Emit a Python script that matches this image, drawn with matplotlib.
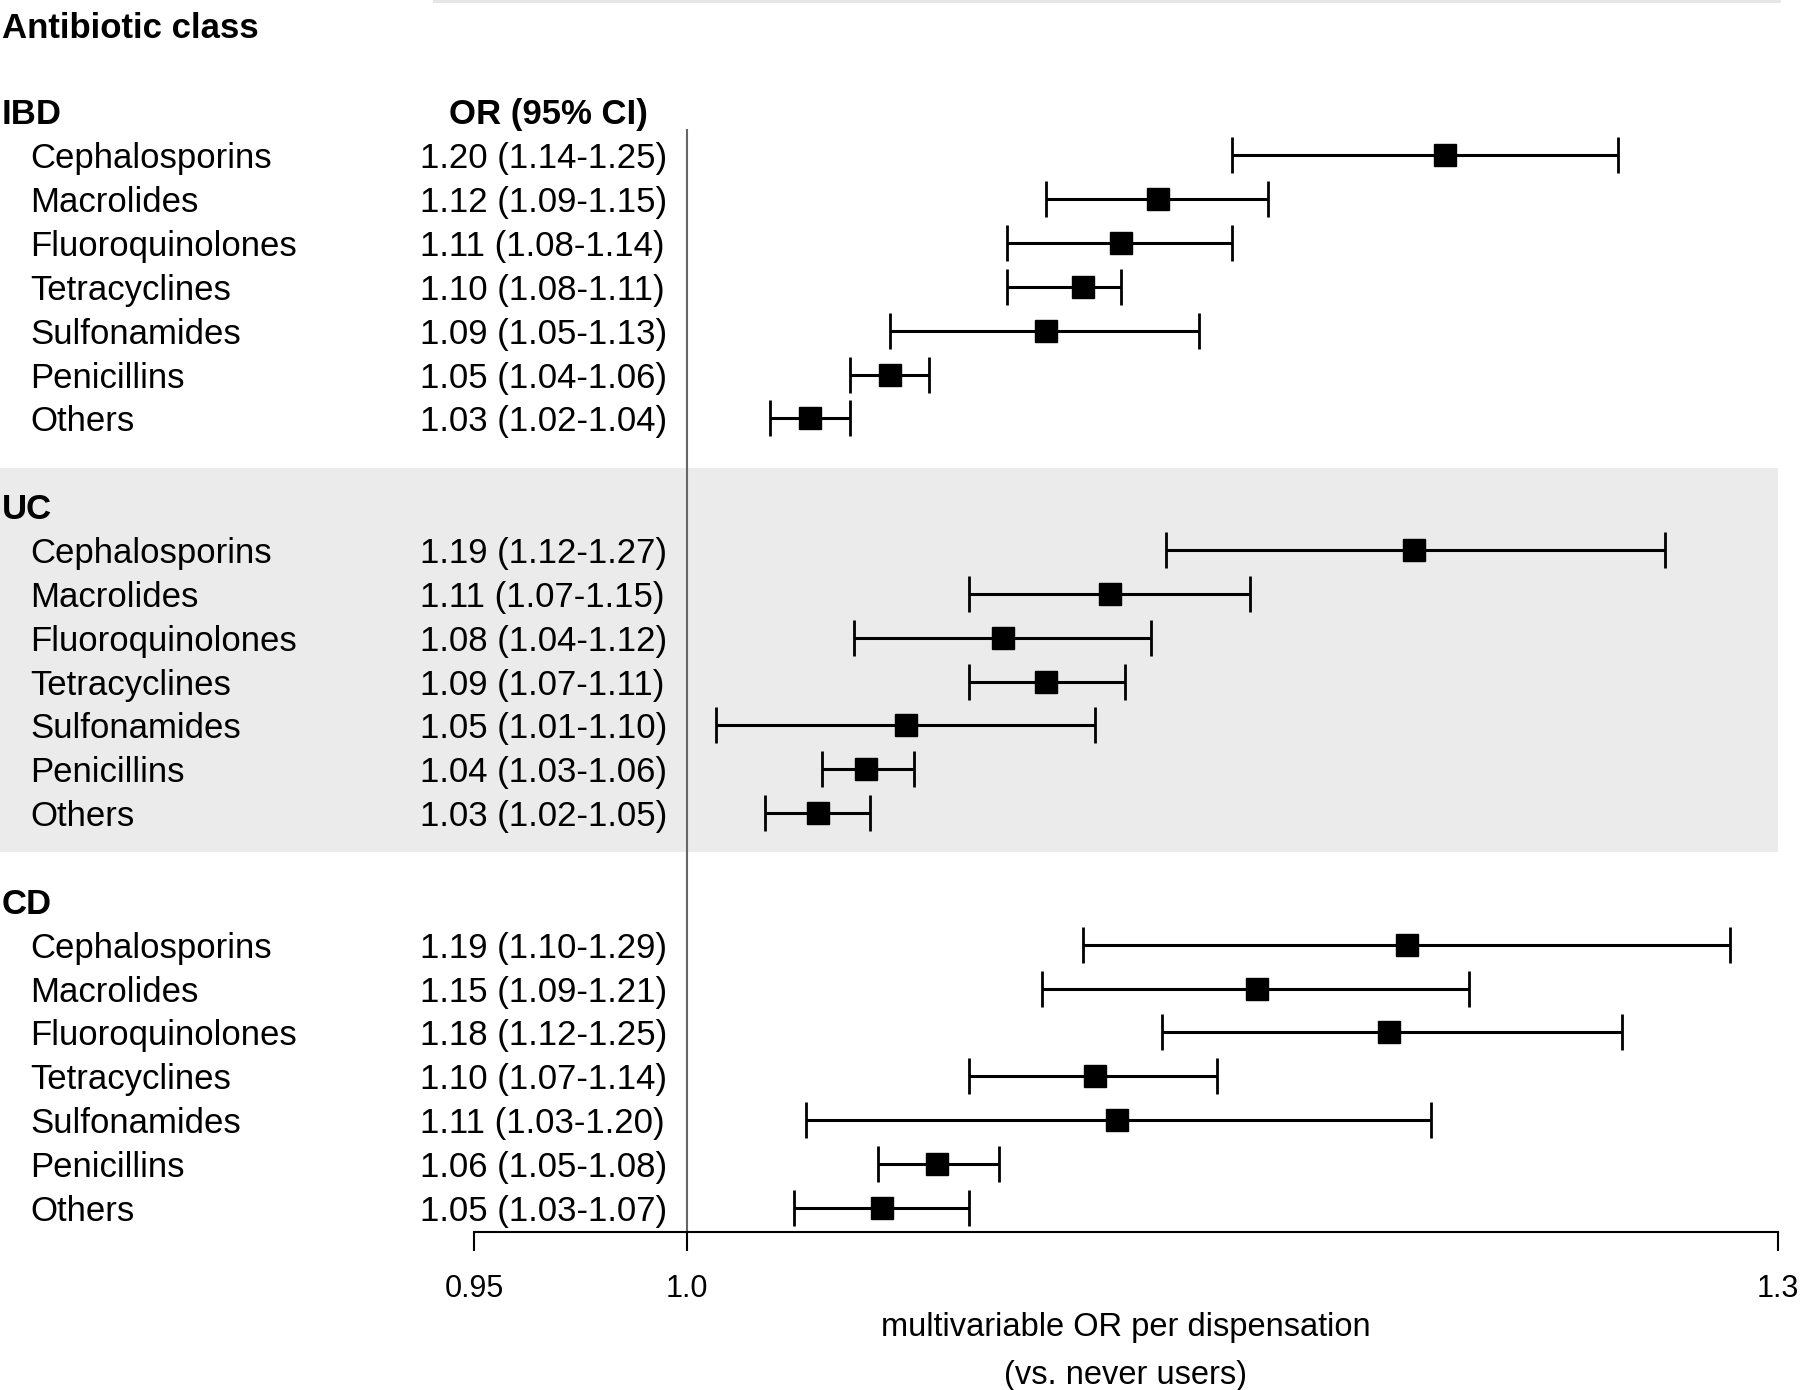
import matplotlib
matplotlib.use('Agg')
import matplotlib.pyplot as plt
import matplotlib.transforms as mtransforms
from matplotlib.patches import Rectangle

plt.rcParams['font.family'] = ['Liberation Sans', 'DejaVu Sans']

# data
groups = ['IBD', 'UC', 'CD']
classes = ['Cephalosporins', 'Macrolides', 'Fluoroquinolones', 'Tetracyclines',
           'Sulfonamides', 'Penicillins', 'Others']
or_ibd = [1.200, 1.120, 1.110, 1.100, 1.090, 1.050, 1.030]
lo_ibd = [1.140, 1.090, 1.080, 1.080, 1.050, 1.040, 1.020]
hi_ibd = [1.251, 1.150, 1.140, 1.110, 1.131, 1.060, 1.040]
or_uc = [1.191, 1.107, 1.079, 1.090, 1.054, 1.044, 1.032]
lo_uc = [1.122, 1.070, 1.041, 1.070, 1.007, 1.033, 1.019]
hi_uc = [1.265, 1.145, 1.118, 1.111, 1.103, 1.056, 1.045]
or_cd = [1.189, 1.147, 1.184, 1.103, 1.109, 1.062, 1.048]
lo_cd = [1.100, 1.089, 1.121, 1.070, 1.029, 1.047, 1.026]
hi_cd = [1.285, 1.207, 1.252, 1.136, 1.196, 1.078, 1.070]
labels_ibd = ['1.20 (1.14-1.25)', '1.12 (1.09-1.15)', '1.11 (1.08-1.14)', '1.10 (1.08-1.11)',
              '1.09 (1.05-1.13)', '1.05 (1.04-1.06)', '1.03 (1.02-1.04)']
labels_uc = ['1.19 (1.12-1.27)', '1.11 (1.07-1.15)', '1.08 (1.04-1.12)', '1.09 (1.07-1.11)',
             '1.05 (1.01-1.10)', '1.04 (1.03-1.06)', '1.03 (1.02-1.05)']
labels_cd = ['1.19 (1.10-1.29)', '1.15 (1.09-1.21)', '1.18 (1.12-1.25)', '1.10 (1.07-1.14)',
             '1.11 (1.03-1.20)', '1.06 (1.05-1.08)', '1.05 (1.03-1.07)']
xticks = [0.95, 1.0, 1.3]
xticklabels = ['0.95', '1.0', '1.3']

W, H = 1800, 1390
fig = plt.figure(figsize=(W / 100, H / 100), dpi=100)
ax = fig.add_axes([474 / W, 1 - 1232 / H, (1778 - 474) / W, (1232 - 67.5) / H])
ax.set_xscale('log')
ax.set_xlim(0.95, 1.3)
ax.set_ylim(25.55, -1.0)

fs = 25
blend = mtransforms.blended_transform_factory(fig.transFigure, ax.transData)

# shaded band for UC
ax.add_patch(Rectangle((-474 / 1304, 8.12), 1 + 474 / 1304, 16.88 - 8.12,
                       transform=mtransforms.blended_transform_factory(ax.transAxes, ax.transData),
                       facecolor='#ebebeb', edgecolor='none', clip_on=False, zorder=0))
# remnant strip at top
fig.patches.append(Rectangle((433 / W, 1 - 2.5 / H), (1781 - 433) / W, 2.5 / H,
                             transform=fig.transFigure, facecolor='#e6e6e6', edgecolor='none'))

ax.vlines(1.0, 0.4, 25.55, color='#666666', lw=1.5, zorder=1)

all_or = [or_ibd, or_uc, or_cd]
all_lo = [lo_ibd, lo_uc, lo_cd]
all_hi = [hi_ibd, hi_uc, hi_cd]
all_lab = [labels_ibd, labels_uc, labels_cd]

for g, name in enumerate(groups):
    base = g * 9
    fig.text(2 / W, base, name, transform=blend, fontsize=fs, fontweight='bold',
             va='center_baseline')
    ys = [base + 1 + i for i in range(len(classes))]
    xerr = [[o - l for o, l in zip(all_or[g], all_lo[g])],
            [h - o for o, h in zip(all_or[g], all_hi[g])]]
    ax.errorbar(all_or[g], ys, xerr=xerr, fmt='s', color='black', ms=16.5,
                elinewidth=2.2, capsize=13, capthick=2, zorder=3)
    for y, c, lab in zip(ys, classes, all_lab[g]):
        fig.text(30 / W, y, c, transform=blend, fontsize=fs, va='center_baseline')
        fig.text(420 / W, y, lab, transform=blend, fontsize=fs, va='center_baseline')

fig.text(548 / W, 0, 'OR (95% CI)', transform=blend, fontsize=fs, fontweight='bold',
         ha='center', va='center_baseline')
fig.text(2 / W, 1 - 25 / H, 'Antibiotic class', fontsize=fs, fontweight='bold', va='center_baseline')

for s in ['top', 'right', 'left']:
    ax.spines[s].set_visible(False)
ax.spines['bottom'].set_linewidth(1.5)
ax.set_yticks([])
ax.set_xticks(xticks)
ax.set_xticklabels(xticklabels)
ax.minorticks_off()
ax.tick_params(axis='x', length=14, width=1.5, pad=16, labelsize=22)

# x axis title, two lines
xc = (474 + 1778) / 2 / W
fig.text(xc, 1 - 1324 / H, 'multivariable OR per dispensation', fontsize=23.5,
         ha='center', va='center_baseline')
fig.text(xc, 1 - 1372 / H, '(vs. never users)', fontsize=23.5,
         ha='center', va='center_baseline')
ax.patch.set_visible(False)

fig.savefig('out.png', dpi=100)
